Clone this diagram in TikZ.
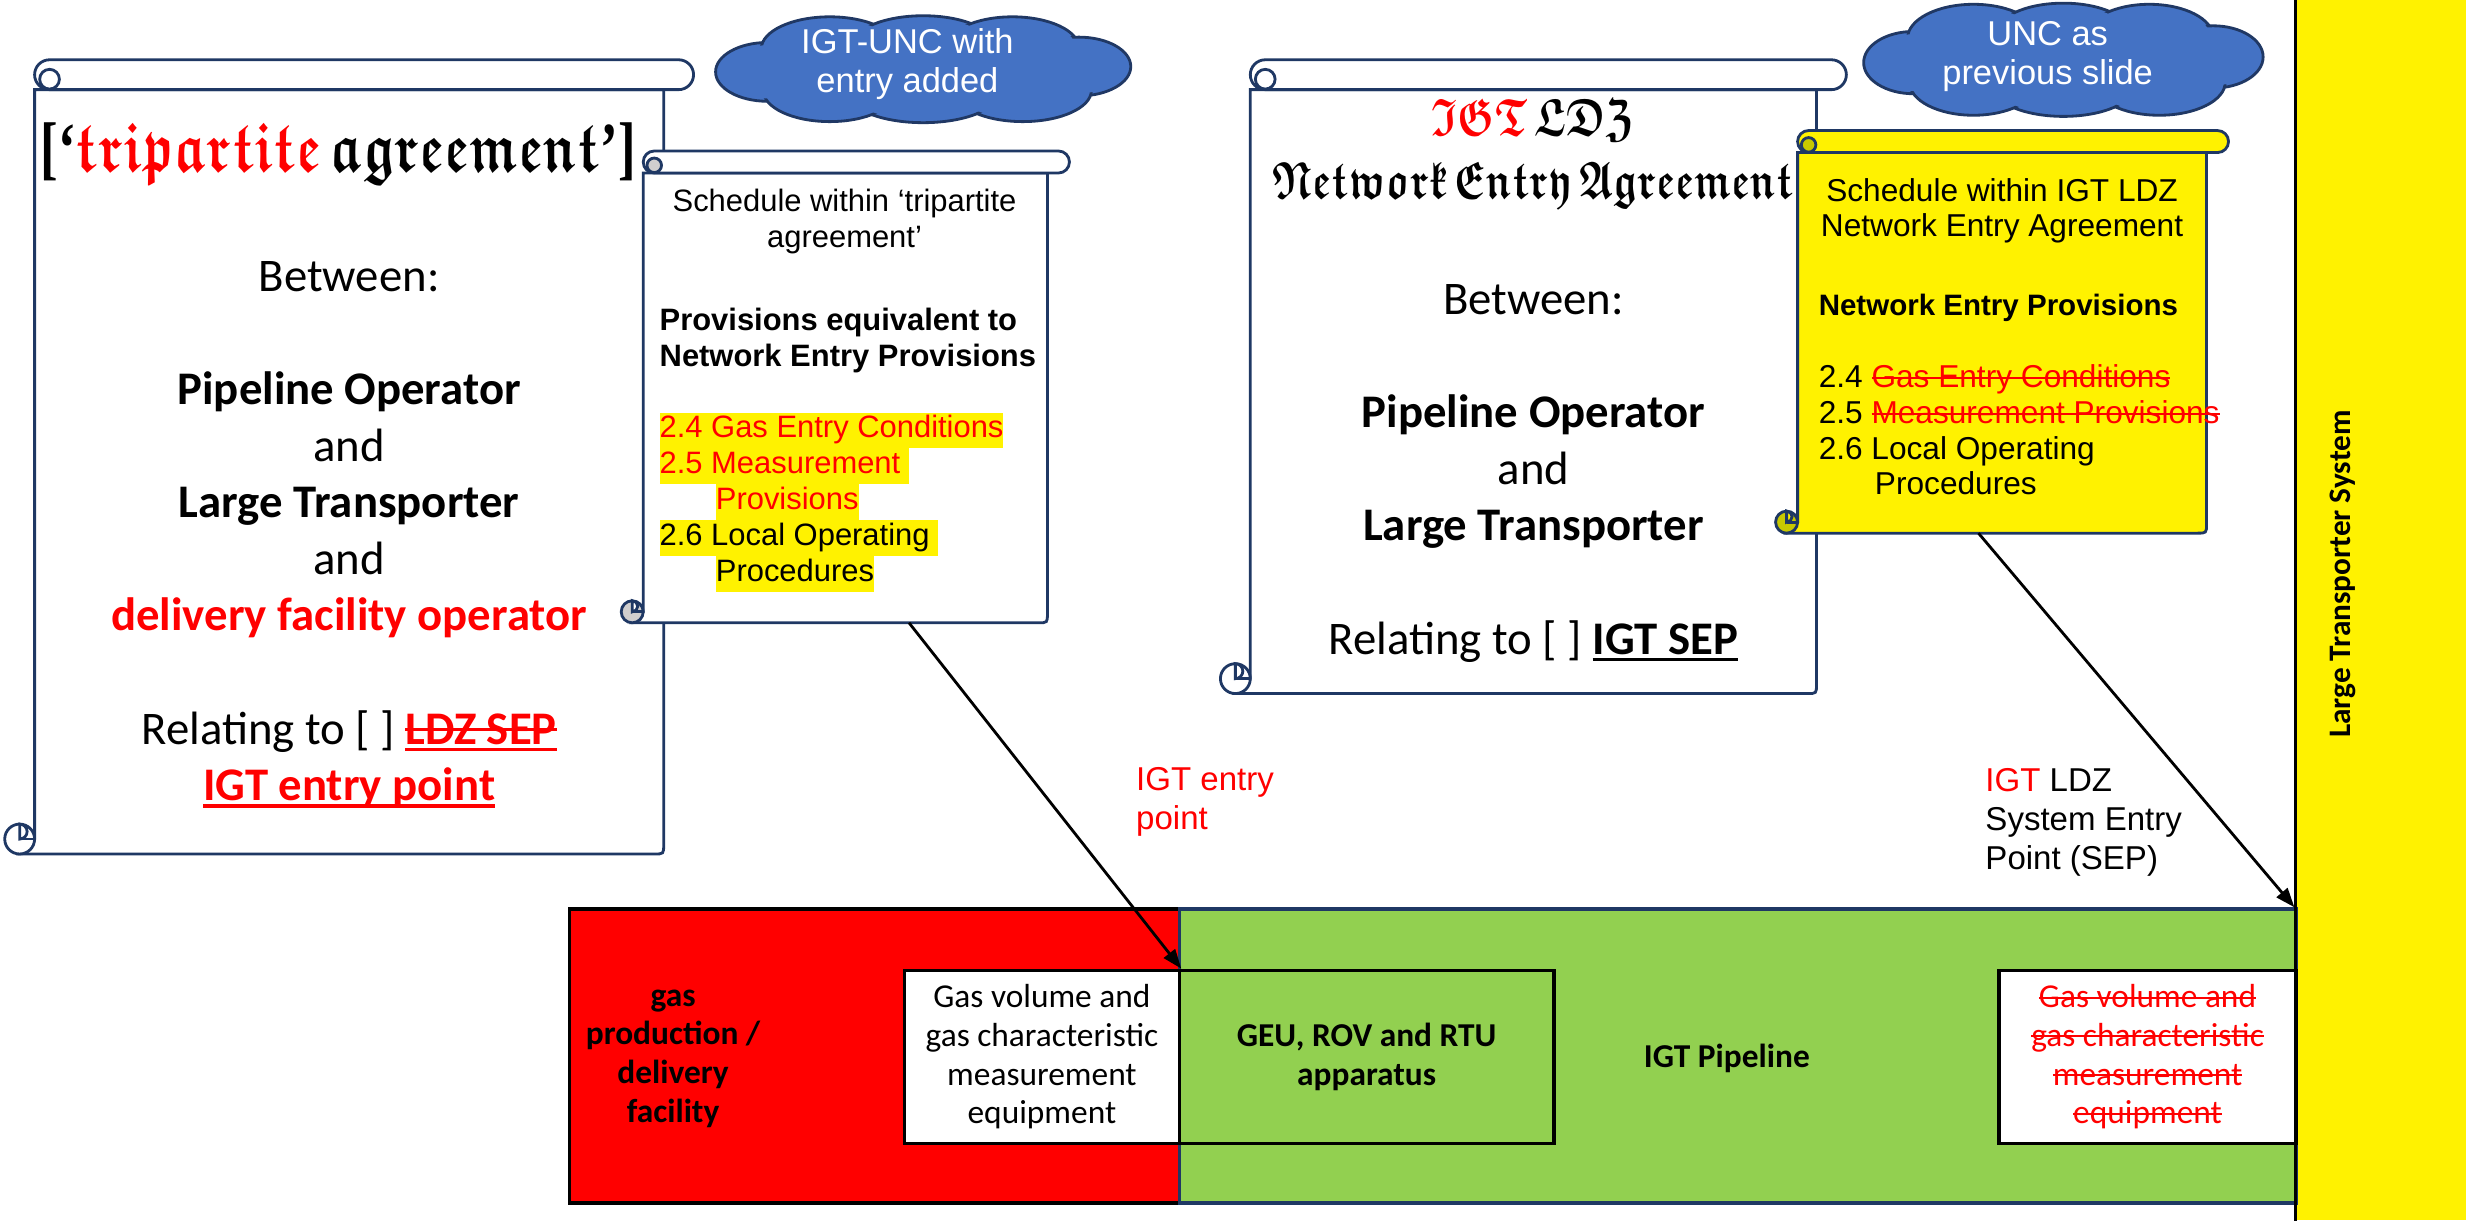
\documentclass[tikz,border=0pt]{standalone}
\usepackage{graphicx}
\usepackage{fontspec}
\usepackage{unicode-math}
\setmainfont{Carlito}
\newfontfamily\arialfont{Liberation Sans}
\newfontfamily\timesfont{Liberation Serif}
\usetikzlibrary{arrows.meta,fit}

\definecolor{scrollnavy}{HTML}{1F3864}
\definecolor{cloudblue}{HTML}{4472C4}
\definecolor{cloudnavy}{HTML}{203864}
\definecolor{pipegreen}{HTML}{92D050}
\definecolor{curlgrey}{HTML}{D0CECE}
\definecolor{curlolive}{HTML}{C8C800}

\tikzset{
  scrollline/.style={draw=scrollnavy, line width=0.8pt},
  deedtext/.style={inner sep=0pt, align=center, font=\fontsize{13.3}{16.1}\selectfont},
  schedtext/.style={inner sep=0pt, align=left, font=\arialfont\fontsize{8.8}{10.2}\selectfont},
  cloudedge/.style={draw=cloudnavy, line width=0.8pt, fill=cloudblue},
  cloudtext/.style={inner sep=0pt, align=center, text=white, font=\arialfont\fontsize{9.8}{11.1}\selectfont},
  labeltext/.style={inner sep=0pt, align=left, font=\arialfont\fontsize{9.4}{11}\selectfont},
  blocktext/.style={inner sep=0pt, align=center, font=\fontsize{9.5}{11}\selectfont},
  block/.style={inner sep=0pt, line width=1pt},
  pointer/.style={line width=0.8pt, -{Triangle[length=5.5pt,width=4pt]}},
}

% left x, right x, top y, bottom y, roll size, fill, curl fill
\newcommand{\drawscroll}[7]{%
  \filldraw[scrollline, fill=#6] (#1,{#3+#5}) -- (#1,{#4-#5/2}) -- ({#1-#5/2},#4)
    -- ({#2-6},#4) .. controls (#2,#4) .. (#2,{#4-6}) -- (#2,{#3+#5}) -- cycle;
  \filldraw[scrollline, fill=#7] ({#1-#5/2},{#4-#5/2}) circle[radius=#5/2];
  \filldraw[scrollline, fill=#6] ({#1-#5/2},{#4-#5}) arc[start angle=-90, end angle=90, radius=#5/4] -- cycle;
  \draw[scrollline] ({#1-#5/2},{#4-#5/2}) -- (#1,{#4-#5/2});
  \filldraw[scrollline, fill=#6] ({#1+#5/2},#3) -- ({#2+#5/2},#3)
    arc[start angle=-90, end angle=90, radius=#5/2] -- ({#1+#5/2},{#3+#5})
    arc[start angle=90, end angle=270, radius=#5/2] -- cycle;
  \filldraw[scrollline, fill=#7] ({#1+#5/2},{#3+#5*0.65}) circle[radius=#5*0.33];
}
% centre x, centre y, half width, half height
\newcommand{\puffs}{-0.75/0.05/0.25/0.55, -0.45/-0.38/0.33/0.6, 0/-0.45/0.34/0.55, 0.43/-0.4/0.32/0.58,
  0.75/-0.05/0.25/0.55, 0.48/0.4/0.33/0.58, 0/0.45/0.36/0.55, -0.45/0.4/0.32/0.58}
\newcommand{\drawcloud}[4]{%
  \foreach \cpx/\cpy/\crx/\cry in \puffs
    \filldraw[cloudedge] ({#1+\cpx*#3},{#2+\cpy*#4}) ellipse[x radius={\crx*#3}, y radius={\cry*#4}];
  \foreach \cpx/\cpy/\crx/\cry in \puffs
    \fill[cloudblue] ({#1+\cpx*#3},{#2+\cpy*#4}) ellipse[x radius={\crx*#3-1.8}, y radius={\cry*#4-1.8}];
  \fill[cloudblue] (#1,#2) ellipse[x radius={0.7*#3}, y radius={0.6*#4}];
}
\newcommand{\hilite}[1]{{\setlength{\fboxsep}{0pt}\colorbox{yellow}{\strut#1}}}
\newcommand{\goth}[1]{$\symbffrak{#1}$}
\newsavebox\strikebox
\newsavebox\ulinebox
\newcommand{\strike}[1]{\sbox\strikebox{#1}\rlap{\rule[0.27em]{\wd\strikebox}{0.065em}}\usebox\strikebox}
\newcommand{\ulined}[1]{\sbox\ulinebox{#1}\rlap{\rule[-0.15em]{\wd\ulinebox}{0.07em}}\usebox\ulinebox}

\begin{document}
\begin{tikzpicture}[x=0.15727mm, y=-0.15727mm]
\useasboundingbox (0,0) rectangle (1568,776);
\fill[white] (0,0) rectangle (1568,776);

% tripartite agreement
\drawscroll{22}{422}{38}{543}{19}{white}{white}
\node[inner sep=0pt] (tripTitle) at (215,98)
  {\scalebox{0.75}[1]{\fontsize{20}{22}\selectfont{\timesfont\bfseries[‘}\textcolor{red}{\goth{tripartite}}\,\goth{agreement}{\timesfont\bfseries’]}}};
\node[deedtext] (tripBody) at (222,340) {Between:\\[\baselineskip]
  \textbf{Pipeline Operator}\\
  and\\
  \textbf{Large Transporter}\\
  and\\
  \textcolor{red}{\textbf{delivery facility operator}}\\[\baselineskip]
  Relating to [ ] \textcolor{red}{\textbf{\ulined{\strike{LDZ SEP}}}}\\
  \textcolor{red}{\textbf{\ulined{IGT entry point}}}};

\drawcloud{587}{44}{132}{34}
\node[cloudtext] (uncA) at (577,41) {IGT-UNC with\\entry added};

% schedule within tripartite agreement
\drawscroll{409}{666}{96}{396}{14}{white}{curlgrey}
\node[schedtext, align=center] (tripSchedHead) at (537,141) {Schedule within ‘tripartite\\agreement’};
\node[schedtext, anchor=west] (tripSched) at (419,286) {\textbf{Provisions equivalent to}\\
  \textbf{Network Entry Provisions}\\[\baselineskip]
  \hilite{\color{red}2.4 Gas Entry Conditions}\\
  \hilite{\color{red}2.5 Measurement\ }\\
  \hspace*{16pt}\hilite{\color{red}Provisions}\\
  \hilite{2.6 Local Operating\ }\\
  \hspace*{16pt}\hilite{Procedures}};
\coordinate (tripFoot) at (578,396);

% IGT LDZ network entry agreement
\drawscroll{795}{1155}{38}{441}{19}{white}{white}
\node[inner sep=0pt] (neaTitle) at (975,98)
  {\scalebox{0.76}[1]{\fontsize{15}{18}\selectfont\begin{tabular}{@{}c@{}}\textcolor{red}{\goth{IGT}}\,\goth{LDZ}\\\goth{Network}\,\goth{Entry}\,\goth{Agreement}\end{tabular}}};
\node[deedtext] (neaBody) at (975,301) {Between:\\[\baselineskip]
  \textbf{Pipeline Operator}\\
  and\\
  \textbf{Large Transporter}\\[\baselineskip]
  Relating to [ ] \textbf{\ulined{IGT SEP}}};

% schedule within network entry agreement
\drawscroll{1143}{1403}{83}{339}{14}{yellow}{curlolive}
\node[schedtext, align=center, font=\arialfont\fontsize{9}{10.2}\selectfont] (neaSchedHead) at (1273,134) {Schedule within IGT LDZ\\Network Entry Agreement};
\node[schedtext, anchor=west, font=\arialfont\fontsize{9}{10.2}\selectfont] (neaSched) at (1156,251) {{\fontsize{8.4}{10.2}\selectfont\textbf{Network Entry Provisions}}\\[\baselineskip]
  2.4 \textcolor{red}{\strike{Gas Entry Conditions}}\\
  2.5 \textcolor{red}{\strike{Measurement Provisions}}\\
  2.6 Local Operating\\
  \hspace*{16pt}Procedures};
\coordinate (neaFoot) at (1258,339);

\drawcloud{1312}{38}{127}{36}
\node[cloudtext] (uncB) at (1302,36) {UNC as\\previous slide};

% large transporter system
\node[fit={(1460,0) (1568,776)}, inner sep=0pt, fill=yellow] (lts) {};
\node[rotate=90, inner sep=0pt, font=\bfseries\fontsize{8.9}{10}\selectfont] at (1490,365) {Large Transporter System};

% pipeline blocks
\node[block, fit={(362,578) (750,765)}, fill=red, draw=black] (facility) {};
\node[block, fit={(750,578) (1460,765)}, fill=pipegreen, draw=scrollnavy] (pipe) {};
\node[block, fit={(575,617) (750,727)}, fill=white, draw=black] (measA) {};
\node[block, fit={(750,617) (988,727)}, fill=pipegreen, draw=black] (geu) {};
\node[block, fit={(1271,617) (1460,727)}, fill=white, draw=black] (measB) {};
\draw[line width=1pt] (lts.north west) -- (lts.south west);

\node[blocktext, font=\bfseries\fontsize{9.5}{11}\selectfont] at (428,673) {gas\\production /\\delivery\\facility};
\node[blocktext] at (measA.center) {Gas volume and\\gas characteristic\\measurement\\equipment};
\node[blocktext, font=\bfseries\fontsize{9.5}{11}\selectfont] at (geu.center) {GEU, ROV and RTU\\apparatus};
\node[blocktext, font=\bfseries\fontsize{9.5}{11}\selectfont] at (1098,673) {IGT Pipeline};
\node[blocktext, text=red] at (measB.center) {\strike{Gas volume and}\\\strike{gas characteristic}\\\strike{measurement}\\\strike{equipment}};

% entry point labels
\node[labeltext, text=red, anchor=west] (entryLabel) at (722,510) {IGT entry\\point};
\node[labeltext, anchor=west] (sepLabel) at (1262,523) {\textcolor{red}{IGT} LDZ\\System Entry\\Point (SEP)};

\draw[pointer] (tripFoot) -- (measA.north east);
\draw[pointer] (neaFoot) -- ([xshift=-1pt]pipe.north east);
\end{tikzpicture}
\end{document}
